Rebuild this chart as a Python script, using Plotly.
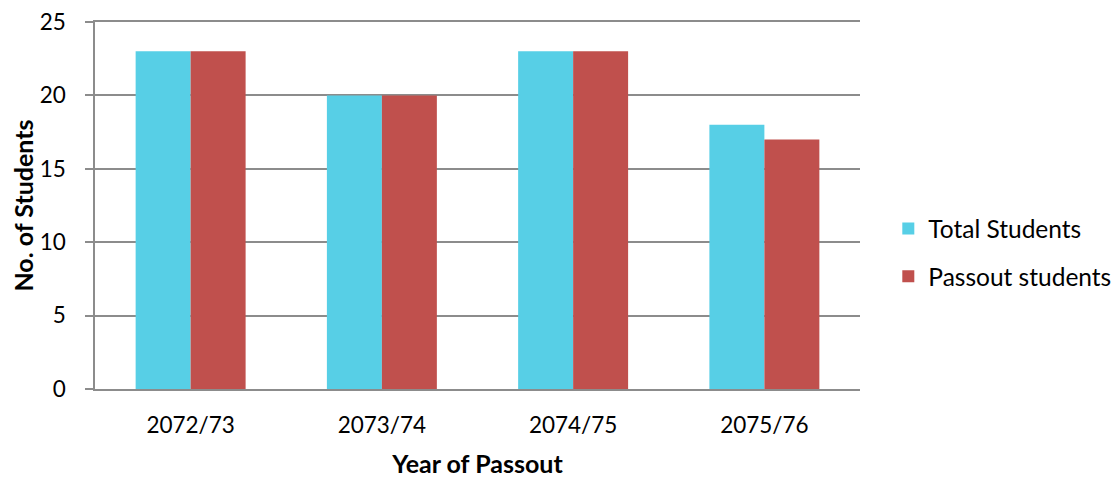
import plotly.graph_objects as go

categories = ["2072/73", "2073/74", "2074/75", "2075/76"]
total_students = [23, 20, 23, 18]
passout_students = [23, 20, 23, 17]

FONT = "Lato, 'Open Sans', sans-serif"

fig = go.Figure()
fig.add_trace(go.Bar(x=categories, y=total_students, name="Total Students",
                     legendgroup="a",
                     marker=dict(color="#57CFE6", line=dict(width=0))))
fig.add_trace(go.Bar(x=categories, y=passout_students, name="Passout students",
                     legendgroup="b",
                     marker=dict(color="#C0504D", line=dict(width=0))))

fig.update_layout(
    width=1119, height=478,
    margin=dict(l=87, r=267, t=14, b=97, autoexpand=False),
    paper_bgcolor="white", plot_bgcolor="white",
    barmode="group", bargap=0.425, bargroupgap=0,
    font=dict(family=FONT, size=22.5, color="black"),
    legend=dict(x=1.037, y=0.372, xanchor="left", yanchor="middle",
                font=dict(size=24.5), tracegroupgap=13, itemwidth=30,
                traceorder="grouped"),
    xaxis=dict(title=dict(text="<b>Year of Passout</b>", font=dict(size=25), standoff=19),
               showline=True, mirror=True, linecolor="#8c8c8c", linewidth=1.5,
               ticks="", tickfont=dict(size=22.5), ticklabelstandoff=15,
               showgrid=False, automargin=False),
    yaxis=dict(title=dict(text="<b>No. of Students</b>", font=dict(size=25), standoff=17),
               range=[0, 25], tickvals=[0, 5, 10, 15, 20, 25],
               showgrid=True, gridcolor="#8c8c8c", gridwidth=1.5,
               showline=True, linecolor="#8c8c8c", linewidth=1.5,
               ticks="outside", ticklen=8, tickcolor="#8c8c8c", tickwidth=1.5,
               tickfont=dict(size=22.5), ticklabelstandoff=15,
               ticklabeloverflow="allow",
               zeroline=False, automargin=False),
)

fig.write_html("out.html")
